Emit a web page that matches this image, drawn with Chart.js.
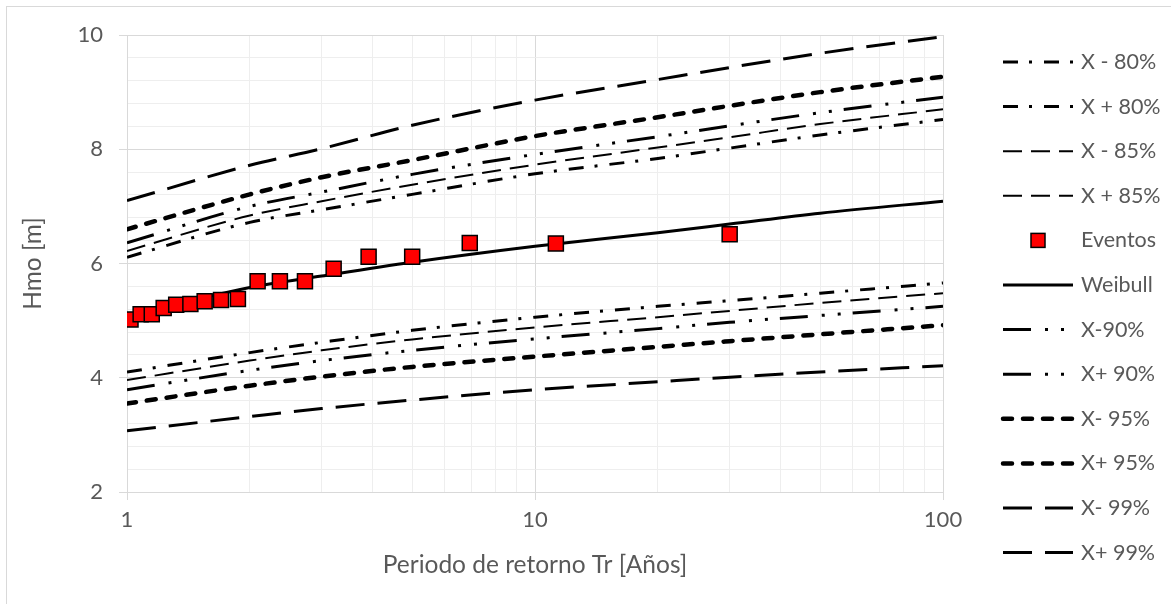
<!DOCTYPE html>
<html>
<head>
<meta charset="utf-8">
<script src="https://cdn.jsdelivr.net/npm/chart.js@4.4.0/dist/chart.umd.min.js"></script>
<style>
html,body{margin:0;padding:0;background:#ffffff;overflow:hidden}
canvas{display:block}
</style>
</head>
<body>
<canvas id="c" width="1171" height="604"></canvas>
<script>
// ---- Data ----
const returnPeriods = [1, 2, 3, 5, 10, 20, 30, 50, 100];
const weibull = [5.08, 5.58, 5.78, 6.02, 6.30, 6.54, 6.69, 6.88, 7.09];
const lower80 = [4.10, 4.44, 4.62, 4.83, 5.06, 5.25, 5.35, 5.48, 5.66];
const upper80 = [6.11, 6.72, 6.94, 7.21, 7.57, 7.84, 8.02, 8.25, 8.52];
const lower85 = [3.96, 4.30, 4.48, 4.67, 4.88, 5.06, 5.17, 5.31, 5.48];
const upper85 = [6.22, 6.84, 7.09, 7.38, 7.73, 8.03, 8.21, 8.44, 8.70];
const lower90 = [3.79, 4.13, 4.30, 4.48, 4.68, 4.86, 4.97, 5.09, 5.25];
const upper90 = [6.36, 7.00, 7.25, 7.56, 7.91, 8.22, 8.41, 8.64, 8.91];
const lower95 = [3.55, 3.86, 4.02, 4.19, 4.37, 4.54, 4.64, 4.76, 4.92];
const upper95 = [6.60, 7.21, 7.51, 7.81, 8.23, 8.56, 8.76, 9.00, 9.27];
const lower99 = [3.07, 3.32, 3.46, 3.61, 3.79, 3.93, 4.01, 4.10, 4.21];
const upper99 = [7.10, 7.72, 8.01, 8.42, 8.86, 9.22, 9.43, 9.68, 9.97];

const eventT = [1.02, 1.08, 1.15, 1.23, 1.32, 1.43, 1.55, 1.70, 1.87, 2.09, 2.37, 2.73, 3.21, 3.91, 5.00, 6.92, 11.25, 30.0];
const eventH = [5.02, 5.11, 5.11, 5.22, 5.28, 5.29, 5.34, 5.36, 5.38, 5.69, 5.69, 5.69, 5.91, 6.12, 6.12, 6.36, 6.35, 6.51];

const xGridValues = [1, 2, 3, 4, 5, 6, 7, 8, 9, 10, 20, 30, 40, 50, 60, 70, 80, 90, 100];
const xLabelValues = [1, 10, 100];
const yGridValues = [2, 2.4, 2.8, 3.2, 3.6, 4, 4.4, 4.8, 5.2, 5.6, 6, 6.4, 6.8, 7.2, 7.6, 8, 8.4, 8.8, 9.2, 9.6, 10];
const yLabelValues = [2, 4, 6, 8, 10];

const legendOrder = ['X - 80%', 'X + 80%', 'X - 85%', 'X + 85%', 'Eventos', 'Weibull',
                     'X-90%', 'X+ 90%', 'X- 95%', 'X+ 95%', 'X- 99%', 'X+ 99%'];

// ---- Styles ----
const FONT_FAMILY = 'Lato, "Open Sans", sans-serif';
const TEXT_COLOR = '#595959';
const MAJOR_GRID = '#d9d9d9';
const MINOR_GRID = '#eeeeee';

const STYLE80 = {borderWidth: 3, borderDash: [15, 11, 3, 12]};
const STYLE85 = {borderWidth: 2, borderDash: [19, 9]};
const STYLE90 = {borderWidth: 3, borderDash: [28, 14, 3, 13, 3, 12]};
const STYLE95 = {borderWidth: 4.5, borderDash: [9, 11], borderCapStyle: 'round'};
const STYLE99 = {borderWidth: 3, borderDash: [29, 13]};
const STYLEW = {borderWidth: 3, borderDash: []};

function toPoints(xs, ys) { return xs.map((x, i) => ({x: x, y: ys[i]})); }

function lineSet(label, values, style) {
  return Object.assign({
    label: label,
    data: toPoints(returnPeriods, values),
    showLine: true,
    borderColor: '#000000',
    backgroundColor: '#000000',
    pointRadius: 0,
    pointHoverRadius: 0,
    cubicInterpolationMode: 'monotone',
    borderCapStyle: 'butt',
    fill: false,
    order: 1
  }, style);
}

const datasets = [
  {
    label: 'Eventos',
    data: toPoints(eventT, eventH),
    showLine: false,
    pointStyle: 'rect',
    pointRadius: 10.6,
    pointHoverRadius: 10.6,
    backgroundColor: '#ff0000',
    borderColor: '#000000',
    borderWidth: 1.5,
    order: 0
  },
  lineSet('X - 80%', lower80, STYLE80),
  lineSet('X + 80%', upper80, STYLE80),
  lineSet('X - 85%', lower85, STYLE85),
  lineSet('X + 85%', upper85, STYLE85),
  lineSet('Weibull', weibull, STYLEW),
  lineSet('X-90%', lower90, STYLE90),
  lineSet('X+ 90%', upper90, STYLE90),
  lineSet('X- 95%', lower95, STYLE95),
  lineSet('X+ 95%', upper95, STYLE95),
  lineSet('X- 99%', lower99, STYLE99),
  lineSet('X+ 99%', upper99, STYLE99)
];

const FONT = {family: FONT_FAMILY, size: 22};
const TITLE_FONT = {family: FONT_FAMILY, size: 24.5};
const LEGEND_FONT_SIZE = 21.5;

const backgroundPlugin = {
  id: 'bg',
  beforeDraw(chart) {
    const ctx = chart.ctx;
    ctx.save();
    ctx.fillStyle = '#ffffff';
    ctx.fillRect(0, 0, chart.width, chart.height);
    ctx.strokeStyle = '#d9d9d9';
    ctx.lineWidth = 1;
    ctx.strokeRect(6.5, 6.5, chart.width + 10, chart.height + 10);
    ctx.restore();
  }
};

const legendPlugin = {
  id: 'sideLegend',
  afterDraw(chart) {
    const ctx = chart.ctx;
    const area = chart.chartArea;
    const x0 = area.right + 60, x1 = area.right + 130, tx = area.right + 138;
    const y0 = 62, dy = 44.6;
    legendOrder.forEach((label, i) => {
      const ds = chart.data.datasets.find(d => d.label === label);
      const y = y0 + i * dy;
      ctx.save();
      if (ds.showLine === false) {
        const s = 14;
        const cx = (x0 + x1) / 2;
        ctx.fillStyle = ds.backgroundColor;
        ctx.fillRect(cx - s / 2, y - s / 2, s, s);
        ctx.lineWidth = ds.borderWidth;
        ctx.strokeStyle = ds.borderColor;
        ctx.strokeRect(cx - s / 2, y - s / 2, s, s);
      } else {
        ctx.setLineDash(ds.borderDash || []);
        ctx.lineWidth = ds.borderWidth;
        ctx.lineCap = ds.borderCapStyle || 'butt';
        ctx.strokeStyle = ds.borderColor;
        ctx.beginPath();
        ctx.moveTo(x0, y);
        ctx.lineTo(x1, y);
        ctx.stroke();
      }
      ctx.setLineDash([]);
      ctx.fillStyle = TEXT_COLOR;
      ctx.font = LEGEND_FONT_SIZE + 'px ' + FONT_FAMILY;
      ctx.textBaseline = 'middle';
      ctx.textAlign = 'left';
      ctx.fillText(label, tx, y);
      ctx.restore();
    });
  }
};

new Chart(document.getElementById('c'), {
  type: 'scatter',
  data: {datasets: datasets},
  plugins: [backgroundPlugin, legendPlugin],
  options: {
    responsive: false,
    animation: false,
    devicePixelRatio: 1,
    layout: {padding: {left: 0, right: 228, top: 35, bottom: 0}},
    plugins: {legend: {display: false}, tooltip: {enabled: false}},
    events: [],
    scales: {
      x: {
        type: 'logarithmic',
        min: 1,
        max: 100,
        afterBuildTicks: s => { s.ticks = xGridValues.map(v => ({value: v})); },
        afterFit: s => { s.height = 112; },
        ticks: {
          autoSkip: false, maxRotation: 0, minRotation: 0, padding: 7,
          color: TEXT_COLOR, font: FONT,
          callback: v => xLabelValues.includes(v) ? String(v) : ''
        },
        grid: {
          color: c => (c.tick && xLabelValues.includes(c.tick.value)) ? MAJOR_GRID : MINOR_GRID,
          tickColor: c => (c.tick && xLabelValues.includes(c.tick.value)) ? MAJOR_GRID : 'rgba(0,0,0,0)',
          tickLength: 8, lineWidth: 1
        },
        border: {color: MAJOR_GRID, width: 1},
        title: {display: true, text: 'Periodo de retorno Tr [Años]', color: TEXT_COLOR, font: TITLE_FONT, padding: {top: 0, bottom: 24}}
      },
      y: {
        type: 'linear',
        min: 2,
        max: 10,
        afterBuildTicks: s => { s.ticks = yGridValues.map(v => ({value: v})); },
        afterFit: s => { s.width = 127; },
        ticks: {
          autoSkip: false, padding: 16,
          color: TEXT_COLOR, font: FONT,
          callback: v => yLabelValues.includes(v) ? String(v) : ''
        },
        grid: {
          color: c => (c.tick && yLabelValues.includes(c.tick.value)) ? MAJOR_GRID : MINOR_GRID,
          tickColor: c => (c.tick && yLabelValues.includes(c.tick.value)) ? MAJOR_GRID : 'rgba(0,0,0,0)',
          tickLength: 8, lineWidth: 1
        },
        border: {color: MAJOR_GRID, width: 1},
        title: {display: true, text: 'Hmo [m]', color: TEXT_COLOR, font: TITLE_FONT, padding: {top: 18, bottom: 0}}
      }
    }
  }
});
</script>
</body>
</html>
